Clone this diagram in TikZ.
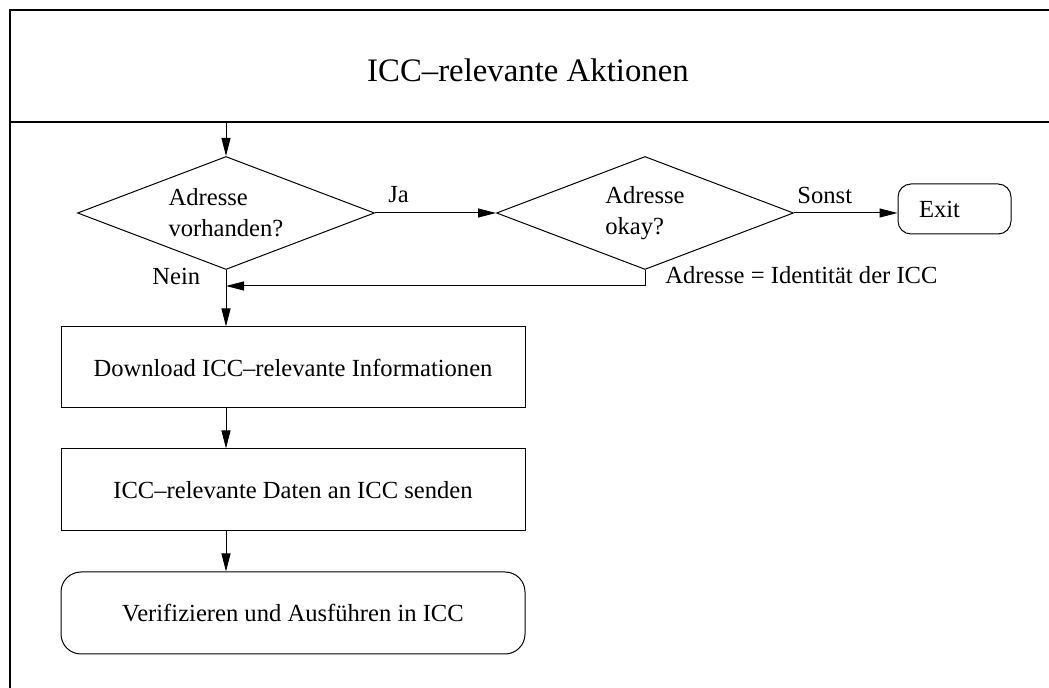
\documentclass[tikz,border=0pt]{standalone}
\usepackage{fontspec}
\setmainfont{Liberation Serif}
\usetikzlibrary{shapes.geometric,arrows.meta}
\begin{document}
\begin{tikzpicture}[x=0.5pt,y=-0.5pt,
  every node/.style={font=\fontsize{12.3}{15.5}\selectfont},
  line/.style={line width=0.5pt},
  flow/.style={line, -{Triangle[length=9pt,width=4.5pt]}},
  decision/.style={diamond, draw, line, aspect=2.6, inner sep=0pt,
    minimum width=148.5pt, minimum height=56.5pt, align=left},
  procbox/.style={rectangle, draw, line, minimum width=232pt, inner sep=0pt},
  termbox/.style={procbox, rounded corners=10pt},
  exitbox/.style={rectangle, draw, line, rounded corners=6.5pt,
    minimum height=25pt, inner xsep=10.5pt, inner ysep=0pt,
    text width=35.5pt, align=left},
  lbl/.style={anchor=base west, inner sep=0pt}]
\useasboundingbox (0,0) rectangle (1049,688);
\clip (0,0) rectangle (1049,688);

% outer frame and header
\draw[line width=0.65pt] (10,700) -- (10,10) -- (1060,10);
\draw[line width=0.65pt] (10,122) -- (1060,122);
\node[anchor=base, inner sep=0pt, font=\fontsize{16.4}{20}\selectfont]
  (title) at (528,82) {ICC–relevante Aktionen};
\coordinate (entry) at (226,122);

% decisions
\node[decision] (d1) at (226,213) {Adresse\\vorhanden?};
\node[decision] (d2) at (645,213) {Adresse\\okay?};
\node[exitbox] (exit) at (954.5,209) {Exit};

% process steps
\node[procbox, minimum height=40.5pt] (b1) at (293,367.5)
  {Download ICC–relevante Informationen};
\node[procbox, minimum height=41pt] (b2) at (293,490)
  {ICC–relevante Daten an ICC senden};
\node[termbox, minimum height=41pt] (b3) at (293,613)
  {Verifizieren und Ausführen in ICC};

\coordinate (join) at (226,286);

% connectors
\draw[flow] (entry) -- (d1.north);
\draw[flow] (d1.east) -- (d2.west);
\draw[flow] (d2.east) -- (d2.east -| exit.west);
\draw[flow] (d1.south) -- (d1.south |- b1.north);
\draw[flow] (d2.south) |- (join);
\draw[flow] (d1.south |- b1.south) -- (d1.south |- b2.north);
\draw[flow] (d1.south |- b2.south) -- (d1.south |- b3.north);

% connector labels
\node[lbl] (lja) at (388,203) {Ja};
\node[lbl] (lnein) at (152,285) {Nein};
\node[lbl] (lsonst) at (797,204) {Sonst};
\node[lbl] (lid) at (665,284) {Adresse = Identität der ICC};
\end{tikzpicture}
\end{document}
